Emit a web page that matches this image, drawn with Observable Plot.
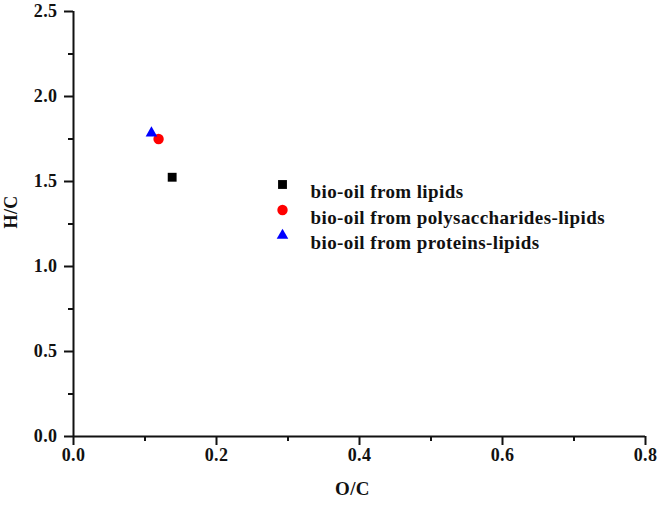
<!DOCTYPE html>
<html>
<head>
<meta charset="utf-8">
<script src="https://cdn.jsdelivr.net/npm/d3@7"></script>
<script src="https://cdn.jsdelivr.net/npm/@observablehq/plot@0.6"></script>
<style>
  body { margin: 0; background: #fff; }
  #chart { position: relative; width: 659px; height: 507px; }
</style>
</head>
<body>
<div id="chart"></div>
<script>
const seriesNames = ["bio-oil from lipids", "bio-oil from polysaccharides-lipids", "bio-oil from proteins-lipids"];
const seriesSymbols = ["square", "circle", "triangle"];
const seriesColors = ["#000000", "#ff0000", "#0000ff"];
const seriesR = [5, 5.2, 4.3];
const oc = [0.138, 0.119, 0.109];
const hc = [1.525, 1.75, 1.785];
const xMajorTicks = [0, 0.2, 0.4, 0.6, 0.8];
const xMinorTicks = [0.1, 0.3, 0.5, 0.7];
const yMajorTicks = [0, 0.5, 1.0, 1.5, 2.0, 2.5];
const yMinorTicks = [0.25, 0.75, 1.25, 1.75, 2.25];
const xTitle = "O/C";
const yTitle = "H/C";

const data = seriesNames.map((name, i) => ({name, x: oc[i], y: hc[i], symbol: seriesSymbols[i], color: seriesColors[i], r: seriesR[i]}));

const font = "'Liberation Serif', 'Times New Roman', serif";
const ink = "#111";
const fmt = d3.format(".1f");

const legendMarks = data.flatMap((d, i) => [
  Plot.dot([d], {frameAnchor: "top-left", dx: 209, dy: 173 + i * 25.5, symbol: "symbol", fill: "color", r: "r", stroke: "none"}),
  Plot.text([d], {frameAnchor: "top-left", dx: 237, dy: 173 + i * 25.5, text: "name", textAnchor: "start", fontSize: 19, fontWeight: "bold", fill: ink})
]);

const chart = Plot.plot({
  width: 659,
  height: 507,
  marginLeft: 73,
  marginRight: 14,
  marginTop: 11,
  marginBottom: 71,
  style: {fontFamily: font, fontWeight: "bold", color: ink, background: "#fff"},
  x: {domain: [0, 0.8]},
  y: {domain: [0, 2.5]},
  symbol: {type: "identity"},
  color: {type: "identity"},
  r: {type: "identity"},
  marks: [
    Plot.axisX({ticks: xMajorTicks, tickSize: 9, text: null, label: null, stroke: ink, strokeWidth: 2, strokeOpacity: 1}),
    Plot.axisX({ticks: xMinorTicks, tickSize: 5, text: null, label: null, stroke: ink, strokeWidth: 2, strokeOpacity: 1}),
    Plot.axisY({ticks: yMajorTicks, tickSize: 9, text: null, label: null, stroke: ink, strokeWidth: 2, strokeOpacity: 1}),
    Plot.axisY({ticks: yMinorTicks, tickSize: 5, text: null, label: null, stroke: ink, strokeWidth: 2, strokeOpacity: 1}),
    Plot.text(xMajorTicks, {x: d => d, frameAnchor: "bottom", dy: 24, text: fmt, fontSize: 18, fontWeight: "bold", fill: ink}),
    Plot.text(yMajorTicks, {y: d => d, frameAnchor: "left", dx: -16, text: fmt, textAnchor: "end", fontSize: 18, fontWeight: "bold", fill: ink}),
    Plot.ruleX([0], {strokeWidth: 2, stroke: ink}),
    Plot.ruleY([0], {strokeWidth: 2, stroke: ink}),
    Plot.text([xTitle], {frameAnchor: "bottom", dx: -7, dy: 58, text: d => d, fontSize: 19, fontWeight: "bold", fill: ink}),
    Plot.text([yTitle], {frameAnchor: "left", dx: -62, dy: 4.5, rotate: -90, text: d => d, fontSize: 18, fontWeight: "bold", fill: ink}),
    Plot.dot(data, {x: "x", y: "y", symbol: "symbol", fill: "color", r: "r", stroke: "none"}),
    ...legendMarks
  ]
});
chart.querySelectorAll("text").forEach(t => { t.style.letterSpacing = "0.4px"; });
document.getElementById("chart").append(chart);
</script>
</body>
</html>
